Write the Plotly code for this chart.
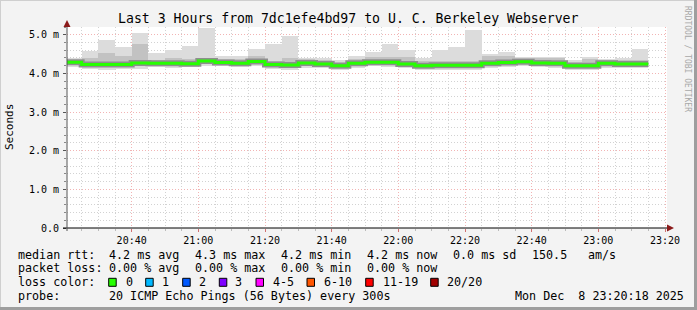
import plotly.graph_objects as go
import pandas as pd

# ---------------- data (milliseconds) ----------------
step_start = pd.date_range('2025-12-08 20:20:00', periods=35, freq='5min')
median_ms = [4.29, 4.23, 4.23, 4.23, 4.27, 4.26, 4.26, 4.25, 4.32, 4.28,
             4.26, 4.31, 4.23, 4.22, 4.27, 4.24, 4.20, 4.26, 4.29, 4.29,
             4.24, 4.20, 4.21, 4.21, 4.21, 4.26, 4.28, 4.30, 4.27, 4.26,
             4.20, 4.20, 4.26, 4.24, 4.24]
max_ms = [4.40, 4.58, 4.86, 4.67, 5.04, 4.52, 4.60, 4.72, 5.17, 4.46,
          4.46, 4.62, 4.76, 4.96, 4.40, 4.41, 4.34, 4.45, 4.55, 4.77,
          4.60, 4.41, 4.60, 4.67, 5.12, 4.49, 4.55, 4.43, 4.43, 4.43,
          4.34, 4.43, 4.38, 4.40, 4.62]
hi_ms = [4.35, 4.40, 4.53, 4.45, 4.77, 4.35, 4.40, 4.38, 4.36, 4.36,
         4.36, 4.45, 4.32, 4.40, 4.38, 4.35, 4.30, 4.36, 4.42, 4.42,
         4.42, 4.33, 4.33, 4.33, 4.32, 4.44, 4.45, 4.40, 4.40, 4.40,
         4.30, 4.38, 4.35, 4.35, 4.34]
lo_ms = [4.22, 4.17, 4.16, 4.17, 4.21, 4.20, 4.20, 4.19, 4.26, 4.22,
         4.20, 4.25, 4.17, 4.16, 4.21, 4.18, 4.14, 4.20, 4.23, 4.23,
         4.18, 4.14, 4.15, 4.15, 4.15, 4.20, 4.22, 4.24, 4.21, 4.20,
         4.14, 4.14, 4.20, 4.18, 4.18]
min_ms = [4.17, 4.12, 4.10, 4.12, 4.11, 4.16, 4.14, 4.16, 4.19, 4.18,
          4.16, 4.20, 4.12, 4.10, 4.15, 4.13, 4.09, 4.15, 4.18, 4.17,
          4.13, 4.09, 4.10, 4.10, 4.10, 4.15, 4.17, 4.19, 4.16, 4.15,
          4.09, 4.09, 4.15, 4.13, 4.13]

y_tickvals = [0, 1, 2, 3, 4, 5]
y_ticktext = ['0.0', '1.0 m', '2.0 m', '3.0 m', '4.0 m', '5.0 m']

loss_labels = ['0', '1', '2', '3', '4-5', '6-10', '11-19', '20/20']
loss_colors = ['#26ff00', '#00b8ff', '#0059ff', '#7e00ff', '#ff00ff',
               '#ff5500', '#ff0000', '#a10000']

title_text = 'Last 3 Hours from 7dc1efe4bd97 to U. C. Berkeley Webserver'
row1 = ['median rtt:', '4.2 ms avg', '4.3 ms max', '4.2 ms min', '4.2 ms now',
        '0.0 ms sd', '150.5', 'am/s']
row2 = ['packet loss:', '0.00 % avg', '0.00 % max', '0.00 % min', '0.00 % now']
row3_label = 'loss color:'
row4 = ['probe:', '20 ICMP Echo Pings (56 Bytes) every 300s', 'Mon Dec  8 23:20:18 2025']

# ---------------- layout geometry (pixels) ----------------
W, H = 697, 310
PL, PR, PT, PB = 67, 667, 27, 228
MONO = 'DejaVu Sans Mono'


def px(x):
    return (x - PL) / (PR - PL)


def py(y):
    return (PB - y) / (PB - PT)


step = pd.Timedelta('5min')
bar_w = step.total_seconds() * 1000

fig = go.Figure()
fig.add_trace(go.Bar(x=step_start, base=min_ms,
                     y=[a - b for a, b in zip(max_ms, min_ms)],
                     width=bar_w, offset=0, marker_color='#dcdcdc',
                     marker_line_width=0, hoverinfo='skip'))
fig.add_trace(go.Bar(x=step_start, base=lo_ms,
                     y=[a - b for a, b in zip(hi_ms, lo_ms)],
                     width=bar_w, offset=0, marker_color='#c2c2c2',
                     marker_line_width=0, hoverinfo='skip'))
mx = list(step_start) + [step_start[-1] + step]
my = median_ms + [median_ms[-1]]
fig.add_trace(go.Scatter(x=mx, y=my, mode='lines', line_shape='hv',
                         line=dict(color='#8e8e8e', width=6), hoverinfo='skip'))
fig.add_trace(go.Scatter(x=mx, y=my, mode='lines', line_shape='hv',
                         line=dict(color='#26ff00', width=3), hoverinfo='skip'))

shapes = []
# frame bevel
shapes.append(dict(type='line', xref='paper', yref='paper', x0=px(0), x1=px(W), y0=py(0.5), y1=py(0.5),
                   line=dict(color='#cfcfcf', width=1)))
shapes.append(dict(type='line', xref='paper', yref='paper', x0=px(0.5), x1=px(0.5), y0=py(0), y1=py(H),
                   line=dict(color='#cfcfcf', width=1)))
shapes.append(dict(type='line', xref='paper', yref='paper', x0=px(0), x1=px(W), y0=py(H - 1.5), y1=py(H - 1.5),
                   line=dict(color='#9e9e9e', width=3)))
shapes.append(dict(type='line', xref='paper', yref='paper', x0=px(W - 1.5), x1=px(W - 1.5), y0=py(0), y1=py(H),
                   line=dict(color='#9e9e9e', width=3)))
# axes
shapes.append(dict(type='line', xref='paper', yref='paper', x0=px(63), x1=px(671), y0=0, y1=0,
                   line=dict(color='#000000', width=1)))
shapes.append(dict(type='line', xref='paper', yref='paper', x0=0, x1=0, y0=py(231), y1=py(24),
                   line=dict(color='#555555', width=1)))
# arrows
ax_path = 'M {},{} L {},{} L {},{} Z'.format(px(674), py(PB), px(667), py(PB - 3.5), px(667), py(PB + 3.5))
ay_path = 'M {},{} L {},{} L {},{} Z'.format(px(PL), py(20), px(PL - 3.5), py(27), px(PL + 3.5), py(27))
for p in (ax_path, ay_path):
    shapes.append(dict(type='path', xref='paper', yref='paper', path=p,
                       fillcolor='#8b1a1a', line=dict(width=0)))

annotations = []


def txt(x, y, s, size=11.7, color='#000000', anchor='left', angle=0):
    annotations.append(dict(xref='paper', yref='paper', x=px(x), y=py(y), text=s,
                            showarrow=False, xanchor=anchor, yanchor='middle',
                            textangle=angle,
                            font=dict(family=MONO, size=size, color=color)))


txt(348, 19, title_text.replace(' ', '&nbsp;'), size=13.2, anchor='center')
txt(10, 127, 'Seconds', size=11, anchor='center', angle=-90)
txt(688, 59, 'RRDTOOL&nbsp;/&nbsp;TOBI&nbsp;OETIKER', size=8, color='#a8a8a8', anchor='center', angle=90)

row1_x = [16, 107.3, 193.3, 279.3, 365, 451, 530, 586]
row2_x = [16, 107.3, 193.3, 279.3, 365]
for s, x in zip(row1, row1_x):
    txt(x, 254.5, s.replace(' ', '&nbsp;'))
for s, x in zip(row2, row2_x):
    txt(x, 268, s.replace(' ', '&nbsp;'))
txt(16, 282, row3_label.replace(' ', '&nbsp;'))
box_x = [108.7, 145.7, 182.7, 219.3, 256, 307, 365.7, 430.7]
lab_x = [124, 160, 197, 233, 271, 322, 380.7, 445.3]
for lab, col, bx, lx in zip(loss_labels, loss_colors, box_x, lab_x):
    shapes.append(dict(type='rect', xref='paper', yref='paper', x0=px(bx), x1=px(bx + 7.5),
                       y0=py(286.3), y1=py(278.3), fillcolor=col, line=dict(color='#000000', width=1)))
    txt(lx, 282, lab)
row4_x = [16, 107.3, 512.7]
for s, x in zip(row4, row4_x):
    txt(x, 296, s.replace(' ', '&nbsp;'))

fig.update_layout(
    width=W, height=H,
    margin=dict(l=PL, r=W - PR, t=PT, b=H - PB, pad=0),
    paper_bgcolor='#f3f3f3', plot_bgcolor='#ffffff',
    barmode='overlay', bargap=0, showlegend=False,
    shapes=shapes, annotations=annotations,
    font=dict(family=MONO, size=10, color='#000000'),
)
fig.update_xaxes(
    type='date', range=['2025-12-08 20:20:36', '2025-12-08 23:20:36'],
    tick0='2025-12-08 20:40:00', dtick=20 * 60 * 1000, tickformat='%H:%M',
    showgrid=True, gridcolor='#f2b4b4', griddash='1px,2px', gridwidth=1,
    ticks='outside', ticklen=3, tickcolor='#d07070',
    minor=dict(dtick=5 * 60 * 1000, showgrid=True, gridcolor='#d2d2d2', griddash='1px,2px',
               ticks='outside', ticklen=2, tickcolor='#bbbbbb'),
    showline=False, zeroline=False, fixedrange=True,
    tickfont=dict(family=MONO, size=10),
)
fig.update_yaxes(
    range=[0, 5.2], tickvals=y_tickvals, ticktext=y_ticktext,
    showgrid=True, gridcolor='#f2b4b4', griddash='1px,2px', gridwidth=1,
    ticks='outside', ticklen=3, tickcolor='#555555', ticklabelstandoff=2,
    minor=dict(dtick=0.2, showgrid=True, gridcolor='#d2d2d2', griddash='1px,2px',
               ticks='outside', ticklen=2, tickcolor='#888888'),
    showline=False, zeroline=False, fixedrange=True,
    tickfont=dict(family=MONO, size=10),
)

fig.write_html('out.html', config={'displayModeBar': False})
